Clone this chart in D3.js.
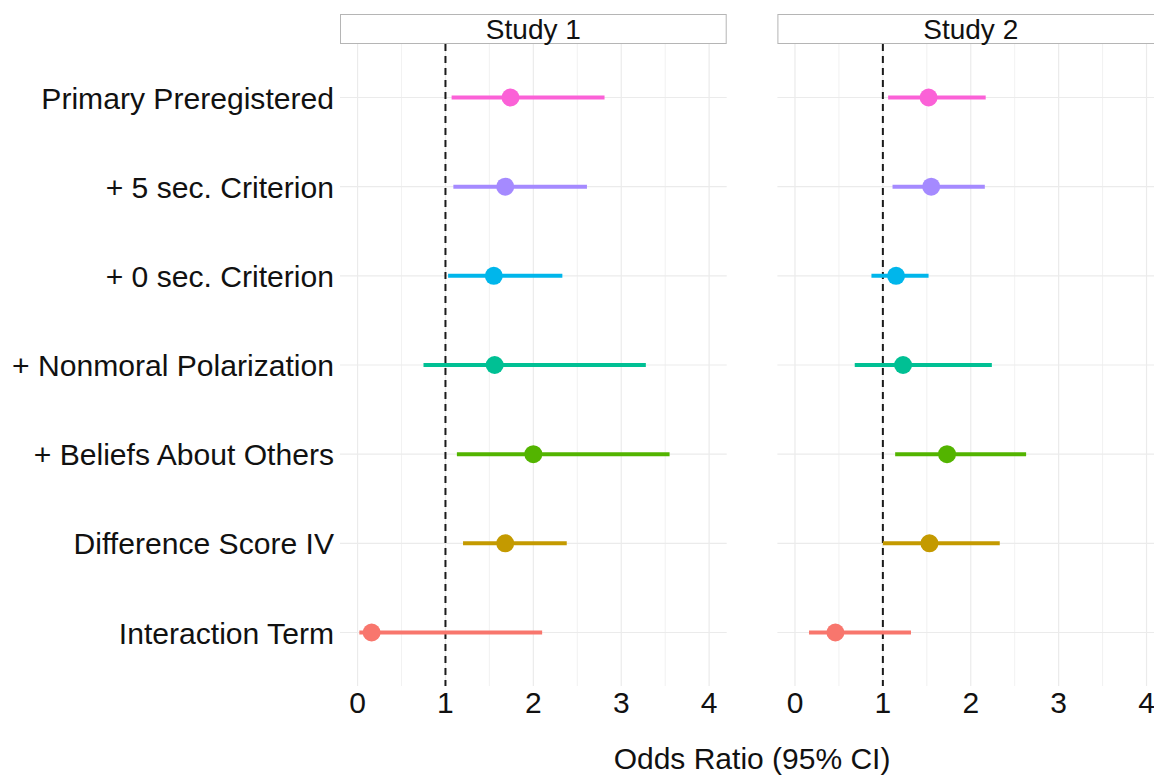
<!DOCTYPE html>
<html>
<head>
<meta charset="utf-8">
<script src="https://cdn.jsdelivr.net/npm/d3@7"></script>
<style>
  html, body { margin: 0; padding: 0; background: #ffffff; }
  svg { display: block; }
  text { font-family: "Liberation Sans", Arial, Helvetica, sans-serif; fill: #111111; }
</style>
</head>
<body>
<svg id="chart" width="1154" height="776"></svg>
<script>
// Model terms, top to bottom
const categories = [
  "Primary Preregistered",
  "+ 5 sec. Criterion",
  "+ 0 sec. Criterion",
  "+ Nonmoral Polarization",
  "+ Beliefs About Others",
  "Difference Score IV",
  "Interaction Term"
];
const termColors = ["#FB61D7", "#A58AFF", "#00B6EB", "#00C094", "#53B400", "#C49A00", "#F8766D"];

const studies = ["Study 1", "Study 2"];

// Odds ratios with 95% confidence limits
const study1Est = [1.74, 1.68, 1.55, 1.56, 2.00, 1.68, 0.16];
const study1Lo  = [1.07, 1.09, 1.03, 0.75, 1.13, 1.20, 0.02];
const study1Hi  = [2.81, 2.61, 2.33, 3.28, 3.55, 2.38, 2.10];

const study2Est = [1.52, 1.55, 1.15, 1.23, 1.73, 1.53, 0.46];
const study2Lo  = [1.06, 1.11, 0.87, 0.68, 1.14, 1.00, 0.16];
const study2Hi  = [2.17, 2.16, 1.52, 2.24, 2.63, 2.33, 1.32];

const xTicks = [0, 1, 2, 3, 4];
const xMinor = [0.5, 1.5, 2.5, 3.5];
const refLine = 1;

const seriesByStudy = [
  { est: study1Est, lo: study1Lo, hi: study1Hi },
  { est: study2Est, lo: study2Lo, hi: study2Hi }
];

const svg = d3.select("#chart");

const panelTop = 44, panelBottom = 686;
const panelLefts = [340, 777.4];
const panelWidth = 386.7;
const stripTop = 14;

const y = d3.scalePoint().domain(categories).range([panelTop, panelBottom]).padding(0.6);

// category labels on the left
svg.append("g").selectAll("text")
  .data(categories)
  .join("text")
  .attr("x", 334)
  .attr("y", d => y(d) + 11)
  .attr("text-anchor", "end")
  .attr("font-size", 30.1)
  .text(d => d);

studies.forEach((study, si) => {
  const left = panelLefts[si];
  const x = d3.scaleLinear().domain([-0.2, 4.2]).range([left, left + panelWidth]);
  const g = svg.append("g");
  const s = seriesByStudy[si];

  // minor grid
  g.append("g").selectAll("line")
    .data(xMinor).join("line")
    .attr("x1", d => x(d)).attr("x2", d => x(d))
    .attr("y1", panelTop).attr("y2", panelBottom)
    .attr("stroke", "#ededed").attr("stroke-width", 0.8);

  // major grid
  g.append("g").selectAll("line")
    .data(xTicks).join("line")
    .attr("x1", d => x(d)).attr("x2", d => x(d))
    .attr("y1", panelTop).attr("y2", panelBottom)
    .attr("stroke", "#ebebeb").attr("stroke-width", 1.2);

  g.append("g").selectAll("line")
    .data(categories).join("line")
    .attr("x1", left).attr("x2", left + panelWidth)
    .attr("y1", d => y(d)).attr("y2", d => y(d))
    .attr("stroke", "#ebebeb").attr("stroke-width", 1.2);

  // strip header
  g.append("rect")
    .attr("x", left + 0.5).attr("y", stripTop + 0.5)
    .attr("width", panelWidth - 1).attr("height", panelTop - stripTop - 1)
    .attr("fill", "#ffffff").attr("stroke", "#b5b5b5").attr("stroke-width", 1);
  g.append("text")
    .attr("x", left + panelWidth / 2).attr("y", 39.3)
    .attr("text-anchor", "middle")
    .attr("font-size", 28)
    .text(study);

  // reference line at OR = 1
  g.append("line")
    .attr("x1", x(refLine)).attr("x2", x(refLine))
    .attr("y1", panelTop).attr("y2", panelBottom)
    .attr("stroke", "#1a1a1a").attr("stroke-width", 2)
    .attr("stroke-dasharray", "7,5");

  // confidence intervals
  g.append("g").selectAll("line")
    .data(categories).join("line")
    .attr("x1", (d, i) => x(s.lo[i])).attr("x2", (d, i) => x(s.hi[i]))
    .attr("y1", d => y(d)).attr("y2", d => y(d))
    .attr("stroke", (d, i) => termColors[i]).attr("stroke-width", 4);

  // point estimates
  g.append("g").selectAll("circle")
    .data(categories).join("circle")
    .attr("cx", (d, i) => x(s.est[i])).attr("cy", d => y(d))
    .attr("r", 9)
    .attr("fill", (d, i) => termColors[i]);

  // x tick labels
  g.append("g").selectAll("text")
    .data(xTicks).join("text")
    .attr("x", d => x(d)).attr("y", 712.7)
    .attr("text-anchor", "middle")
    .attr("font-size", 30)
    .text(d => d);
});

// axis title centered under both panels
svg.append("text")
  .attr("x", (panelLefts[0] + panelLefts[1] + panelWidth) / 2)
  .attr("y", 769)
  .attr("text-anchor", "middle")
  .attr("font-size", 30)
  .text("Odds Ratio (95% CI)");
</script>
</body>
</html>
